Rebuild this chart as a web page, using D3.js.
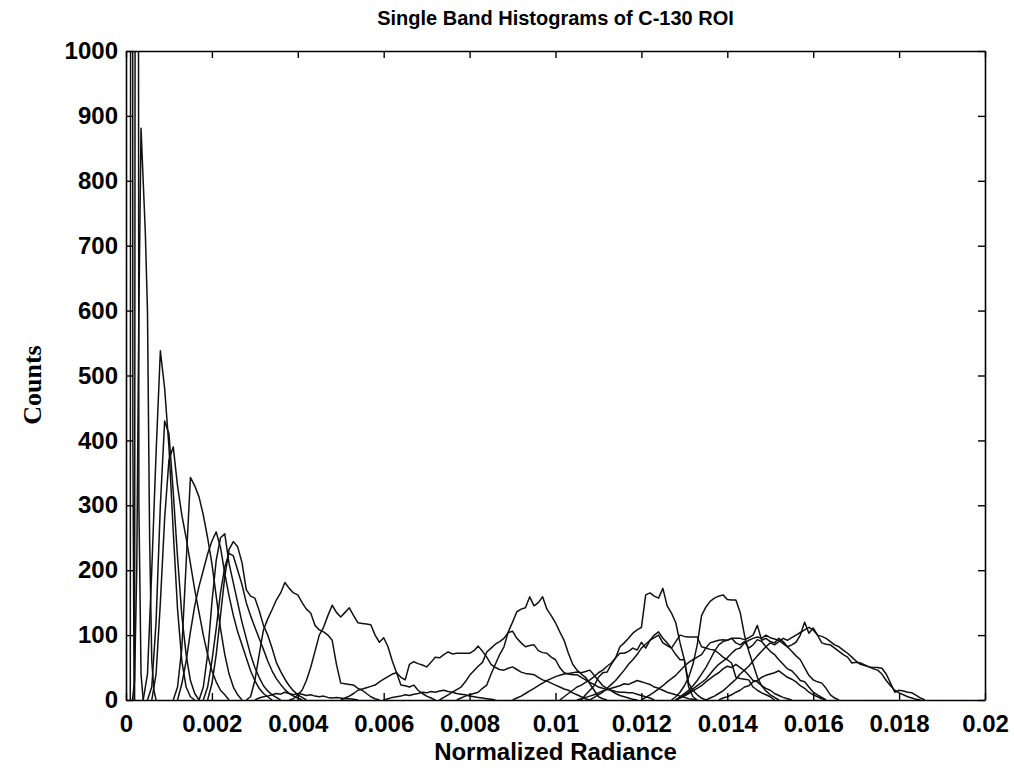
<!DOCTYPE html>
<html>
<head>
<meta charset="utf-8">
<script src="https://cdn.jsdelivr.net/npm/d3@7"></script>
<style>
  body { margin: 0; background: #fff; }
  svg { display: block; }
</style>
</head>
<body>
<div id="chart"></div>
<script>
// tick values and labels
let xTickValues = [0, 0.002, 0.004, 0.006, 0.008, 0.01, 0.012, 0.014, 0.016, 0.018, 0.02]
let xTickLabels = ['0', '0.002', '0.004', '0.006', '0.008', '0.01', '0.012', '0.014', '0.016', '0.018', '0.02']
let yTickValues = [0, 100, 200, 300, 400, 500, 600, 700, 800, 900, 1000]

// histogram counts per band
// each band: first bin centre and bin width (normalized radiance)
let bandStarts = [0.0001, 0.0002, 0.00015, 0.0004, 0.0005, 0.0006, 0.0011, 0.0012, 0.0017, 0.0019, 0.0018,
  0.0028, 0.0038, 0.0050, 0.0073, 0.0077, 0.0101, 0.0106, 0.0108, 0.0127, 0.0120, 0.0128, 0.0135,
  0.0128, 0.0128, 0.0138, 0.0030, 0.0090, 0.0105, 0.0060]
let bandSteps = [0.00003, 0.00005, 0.00005, 0.0001, 0.0001, 0.0001, 0.0001, 0.0001, 0.0001, 0.0001, 0.0001,
  0.0001, 0.0001, 0.0001, 0.0001, 0.0001, 0.0001, 0.0001, 0.0001, 0.0001, 0.0001, 0.0001, 0.0001,
  0.0001, 0.0001, 0.0001, 0.0001, 0.0001, 0.0001, 0.0001]

let countsA = [0, 5000, 400, 0]
let countsB = [0, 4500, 300, 40, 0]
let countsC = [0, 30, 200, 600, 881, 800, 720, 600, 250, 60, 15, 0]
let countsD = [0, 40, 200, 380, 538, 480, 390, 260, 140, 60, 20, 5, 0]
let countsE = [0, 20, 120, 300, 430, 410, 320, 220, 130, 70, 30, 10, 0]
let countsF = [0, 40, 150, 280, 370, 390, 330, 285, 250, 210, 170, 135, 100, 70, 45, 28, 15, 8, 0]
let countsG = [0, 20, 80, 210, 343, 330, 313, 285, 250, 210, 160, 110, 70, 40, 20, 8, 0]
let countsH = [0, 25, 60, 105, 145, 175, 200, 225, 245, 259, 235, 195, 160, 130, 105, 85, 65, 45, 30, 18, 10, 5, 0]
let countsI = [0, 20, 70, 150, 215, 250, 256, 210, 180, 150, 120, 95, 70, 50, 35, 22, 14, 8, 4, 0]
let countsJ = [0, 25, 70, 130, 190, 232, 244, 236, 212, 170, 160, 157, 138, 115, 100, 80, 58, 44, 32, 22, 14, 8, 4, 0]
let countsK = [0, 20, 60, 110, 165, 205, 226, 222, 200, 178, 150, 130, 112, 95, 78, 60, 45, 33, 24, 16, 10, 6, 3, 0]
let countsL = [0, 5, 30, 70, 108, 125, 139, 154, 165, 181, 172, 165, 162, 150, 140, 134, 115, 108, 105, 100,
  92, 55, 26, 25, 24, 23, 18, 15, 10, 5, 2, 0]
let countsM = [0, 2, 8, 15, 30, 50, 75, 100, 112, 130, 146, 135, 128, 135, 142, 130, 119, 118, 117, 116,
  100, 89, 96, 82, 60, 42, 23, 22, 20, 23, 15, 10, 6, 3, 0]
let countsN = [0, 3, 6, 10, 15, 17, 19, 21, 23, 28, 32, 36, 40, 42, 35, 31, 55, 59, 56, 54,
  51, 58, 66, 65, 70, 74, 71, 72, 72, 72, 72, 76, 83, 75, 66, 55, 50, 47, 46, 49,
  51, 47, 43, 41, 40, 39, 35, 31, 29, 26, 23, 20, 17, 15, 11, 8, 5, 2, 0]
let countsO = [0, 4, 8, 12, 16, 20, 28, 38, 45, 52, 58, 74, 80, 86, 90, 95, 104, 106, 95, 88,
  82, 84, 85, 76, 73, 72, 66, 62, 50, 42, 40, 39, 39, 35, 31, 27, 24, 20, 18, 16,
  15, 13, 12, 12, 11, 11, 9, 7, 5, 3, 0]
let countsP = [0, 3, 6, 8, 10, 12, 18, 23, 40, 55, 70, 82, 105, 120, 136, 140, 142, 159, 145, 150,
  159, 140, 130, 119, 105, 92, 72, 55, 46, 40, 35, 25, 15, 5, 2, 0]
let countsR = [0, 5, 10, 15, 20, 23, 27, 31, 36, 42, 46, 52, 57, 65, 82, 88, 95, 103, 108, 112,
  162, 165, 160, 157, 172, 145, 134, 119, 88, 62, 20, 5, 0]
let countsS = [0, 8, 15, 22, 35, 42, 43, 55, 65, 72, 72, 75, 80, 77, 89, 80, 92, 100, 105, 95,
  88, 80, 70, 62, 62, 26, 15, 8, 3, 0]
let countsT = [0, 4, 8, 12, 18, 24, 30, 38, 46, 55, 62, 70, 80, 86, 92, 96, 100, 88, 84, 80,
  90, 100, 98, 97, 97, 97, 82, 80, 78, 77, 72, 66, 62, 57, 35, 33, 32, 31, 20, 15, 11, 8, 5, 0]
let countsU = [0, 5, 12, 22, 35, 55, 85, 130, 143, 152, 157, 160, 162, 155, 154, 154, 135, 100, 75, 55,
  35, 22, 14, 8, 4, 0]
let countsV = [0, 4, 8, 12, 17, 22, 28, 33, 38, 45, 52, 58, 62, 66, 70, 80, 88, 90, 92, 93,
  92, 95, 88, 85, 90, 80, 85, 93, 90, 82, 75, 70, 62, 55, 48, 45, 38, 30, 28, 20, 12, 8, 4, 0]
let countsW = [0, 5, 10, 15, 22, 30, 40, 50, 62, 75, 85, 90, 92, 95, 95, 95, 93, 96, 100, 115,
  92, 95, 90, 88, 95, 90, 82, 85, 89, 100, 120, 103, 111, 100, 88, 86, 85, 80, 75, 70,
  66, 57, 58, 57, 54, 51, 50, 50, 49, 40, 26, 12, 15, 14, 12, 11, 7, 3, 0]
let countsX = [0, 3, 6, 10, 14, 20, 26, 32, 40, 46, 52, 60, 68, 75, 82, 88, 85, 90, 95, 92,
  96, 100, 104, 108, 112, 108, 100, 98, 95, 90, 85, 82, 77, 72, 66, 60, 55, 53, 51, 48,
  46, 40, 30, 22, 15, 11, 8, 5, 3, 1, 0]
let countsY = [0, 4, 8, 12, 17, 22, 27, 32, 40, 48, 55, 60, 65, 72, 78, 80, 88, 92, 95, 97,
  95, 100, 96, 94, 92, 87, 82, 75, 68, 62, 50, 38, 31, 28, 26, 18, 8, 3, 0]
let countsAA = [0, 3, 6, 10, 14, 18, 22, 28, 33, 38, 42, 48, 52, 50, 55, 50, 45, 38, 30, 28, 22, 18, 15, 10, 7, 4, 2, 0]
let countsAB = [0, 3, 5, 8, 12, 15, 20, 22, 28, 30, 35, 38, 40, 42, 45, 40, 35, 32, 28, 22, 18, 12, 8, 5, 2, 0]
let countsLA = [0, 3, 5, 6, 8, 10, 9, 12, 10, 8, 10, 9, 7, 8, 6, 5, 6, 4, 3, 4, 3, 2, 2, 1, 0]
let countsLB = [0, 3, 6, 10, 14, 18, 22, 26, 30, 33, 36, 38, 40, 41, 42, 43, 42, 44, 46, 38, 30, 22, 18, 14, 10, 7, 5, 3, 1, 0]
let countsLC = [0, 2, 4, 6, 8, 11, 14, 16, 18, 20, 22, 25, 24, 27, 30, 28, 26, 24, 20, 18, 15, 12, 10, 8, 6, 4, 2, 1, 0]
let countsLD = [0, 2, 4, 5, 6, 8, 7, 9, 10, 12, 11, 13, 12, 14, 15, 13, 12, 10, 9, 8, 6, 5, 4, 3, 2, 1, 0]

let allCounts = [countsA, countsB, countsC, countsD, countsE, countsF, countsG, countsH, countsI, countsJ, countsK,
  countsL, countsM, countsN, countsO, countsP, countsR, countsS, countsT, countsU, countsV, countsW, countsX,
  countsY, countsAA, countsAB, countsLA, countsLB, countsLC, countsLD]

let bands = allCounts.map((counts, i) => ({ start: bandStarts[i], step: bandSteps[i], counts: counts }))

let margin = { top: 51, left: 126, right: 29, bottom: 68 }
let width = 1014 - margin.left - margin.right
let height = 768 - margin.top - margin.bottom

let svg = d3
  .select('#chart')
  .append('svg')
  .attr('width', 1014)
  .attr('height', 768)

let g = svg.append('g').attr('transform', `translate(${margin.left},${margin.top})`)

let xScale = d3.scaleLinear().domain([0, 0.02]).range([0, width])
let yScale = d3.scaleLinear().domain([0, 1000]).range([height, 0])

g.append('clipPath')
  .attr('id', 'plot-clip')
  .append('rect')
  .attr('width', width)
  .attr('height', height)

let line = d3.line()

g.append('g')
  .attr('clip-path', 'url(#plot-clip)')
  .selectAll('.band')
  .data(bands)
  .enter()
  .append('path')
  .attr('class', 'band')
  .attr('d', d => line(d.counts.map((c, i) => [xScale(d.start + i * d.step), yScale(c)])))
  .attr('fill', 'none')
  .attr('stroke', '#111')
  .attr('stroke-width', 1.5)
  .attr('stroke-linejoin', 'round')

let tickFont = 'bold 24px "Liberation Sans", Arial, sans-serif'

g.append('g')
  .attr('class', 'axis')
  .attr('transform', `translate(0,${height})`)
  .call(d3.axisBottom(xScale).tickValues(xTickValues).tickFormat((d, i) => xTickLabels[i])
    .tickSizeInner(-7).tickSizeOuter(0).tickPadding(15))

g.append('g')
  .attr('class', 'axis')
  .call(d3.axisTop(xScale).tickValues(xTickValues).tickFormat('')
    .tickSizeInner(-7).tickSizeOuter(0))

g.append('g')
  .attr('class', 'axis')
  .call(d3.axisLeft(yScale).tickValues(yTickValues).tickFormat(d3.format('d'))
    .tickSizeInner(-7).tickSizeOuter(0).tickPadding(8))

g.append('g')
  .attr('class', 'axis')
  .attr('transform', `translate(${width},0)`)
  .call(d3.axisRight(yScale).tickValues(yTickValues).tickFormat('')
    .tickSizeInner(-7).tickSizeOuter(0))

g.selectAll('.axis .domain').attr('stroke', '#000').attr('stroke-width', 1.6)
g.selectAll('.axis .tick line').attr('stroke', '#000').attr('stroke-width', 1.4)
g.selectAll('.axis text')
  .style('font', tickFont)
  .attr('fill', '#000')

svg.append('text')
  .text('Single Band Histograms of C-130 ROI')
  .attr('x', margin.left + width / 2)
  .attr('y', 25)
  .attr('text-anchor', 'middle')
  .style('font', 'bold 20px "Liberation Sans", Arial, sans-serif')

svg.append('text')
  .text('Normalized Radiance')
  .attr('x', margin.left + width / 2)
  .attr('y', 760)
  .attr('text-anchor', 'middle')
  .style('font', 'bold 24px "Liberation Sans", Arial, sans-serif')

svg.append('text')
  .text('Counts')
  .attr('text-anchor', 'middle')
  .attr('transform', 'translate(41,385) rotate(-90)')
  .style('font', 'bold 26px "Liberation Serif", "Times New Roman", serif')
</script>
</body>
</html>
